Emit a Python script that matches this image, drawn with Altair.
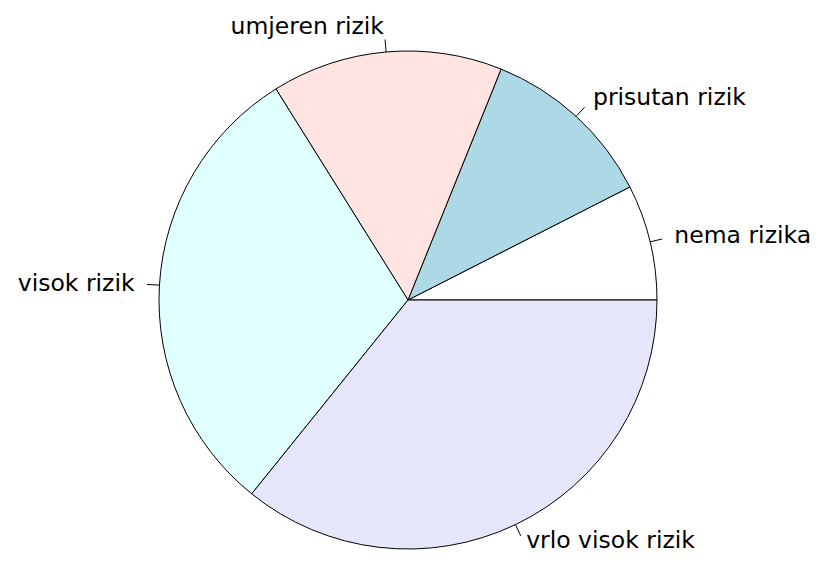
import math
import altair as alt
import pandas as pd

labels = ["nema rizika", "prisutan rizik", "umjeren rizik", "visok rizik", "vrlo visok rizik"]
values = [7.5, 11.4, 15.0, 30.3, 35.8]
colors = ["#FFFFFF", "#ADD8E6", "#FFE4E1", "#E0FFFF", "#E6E6FA"]

df = pd.DataFrame({"label": labels, "value": values, "order": list(range(len(labels)))})

W, H = 804, 546
R = 249.0
CX, CY = 400.0, 292.0
FONT = "DejaVu Sans"
FS = 23.5
xs = alt.Scale(domain=[-CX / R, (W - CX) / R], range=[0, W], nice=False, zero=False)
ys = alt.Scale(domain=[-(H - CY) / R, CY / R], range=[H, 0], nice=False, zero=False)

base = (
    alt.Chart(df)
    .transform_window(cum="sum(value)", sort=[alt.SortField("order")], frame=[None, 0])
    .transform_joinaggregate(total="sum(value)")
    .transform_calculate(
        start="(datum.cum - datum.value) / datum.total",
        end="datum.cum / datum.total",
    )
    .transform_calculate(a="PI * (datum.start + datum.end)")
    .transform_calculate(
        ux="cos(datum.a)", uy="sin(datum.a)",
    )
    .transform_calculate(
        tx="1.05 * datum.ux", ty="1.05 * datum.uy",
        lx="1.1 * datum.ux", ly="1.1 * datum.uy",
    )
)

arcs = base.mark_arc(stroke="black", strokeWidth=1).encode(
    x=alt.X(datum=0, type="quantitative", scale=xs, axis=None),
    y=alt.Y(datum=0, type="quantitative", scale=ys, axis=None),
    theta=alt.Theta("start:Q", scale=alt.Scale(domain=[0, 1], range=[2.5 * math.pi, 0.5 * math.pi])),
    theta2="end:Q",
    radius=alt.value(R),
    fill=alt.Fill("label:N", scale=alt.Scale(domain=labels, range=colors), legend=None),
)

ticks = base.mark_rule(color="black", strokeWidth=1).encode(
    x=alt.X("ux:Q", scale=xs, axis=None),
    y=alt.Y("uy:Q", scale=ys, axis=None),
    x2="tx:Q",
    y2="ty:Q",
)

enc = dict(
    x=alt.X("lx:Q", scale=xs, axis=None),
    y=alt.Y("ly:Q", scale=ys, axis=None),
    text="label:N",
)

text_right = base.transform_filter("datum.ux >= 0 && datum.uy >= -0.8").mark_text(
    align="left", baseline="middle", font=FONT, fontSize=FS, color="black"
).encode(**enc)

text_left = base.transform_filter("datum.ux < 0").mark_text(
    align="right", baseline="middle", font=FONT, fontSize=FS, color="black"
).encode(**enc)

text_bottom = base.transform_filter("datum.ux >= 0 && datum.uy < -0.8").mark_text(
    align="left", baseline="bottom", dy=6, font=FONT, fontSize=FS, color="black"
).encode(**enc)

chart = (
    alt.layer(arcs, ticks, text_right, text_left, text_bottom)
    .properties(width=W, height=H, autosize=alt.AutoSizeParams(type="none"), padding=0, background="white")
    .configure_view(strokeWidth=0)
)

chart.save("out.html", embed_options={"renderer": "svg", "actions": False})
